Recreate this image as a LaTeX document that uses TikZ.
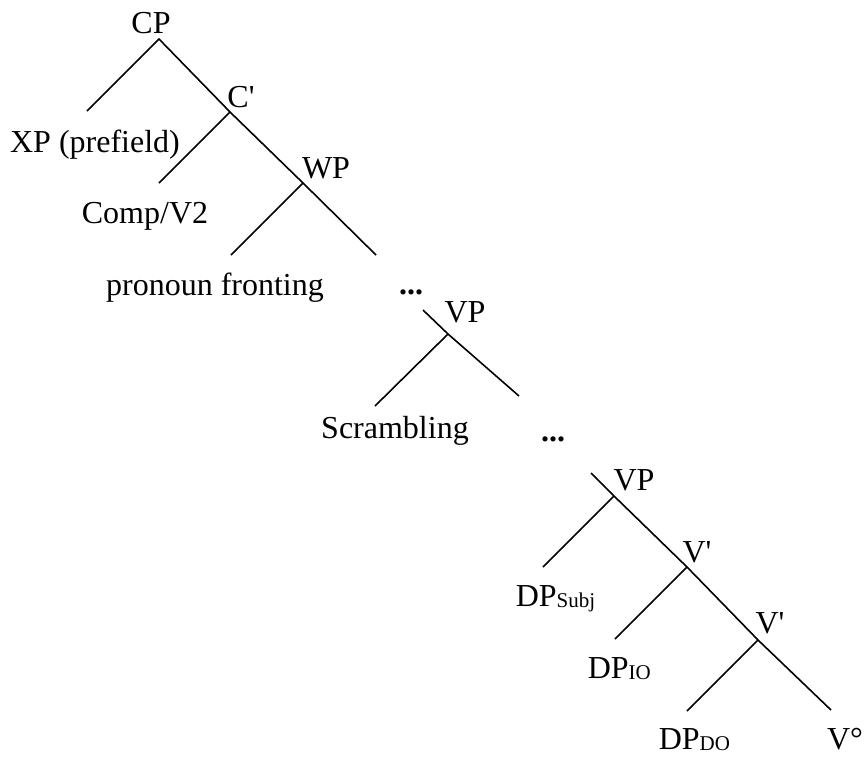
\documentclass[tikz,border=0pt]{standalone}
\usepackage{fontspec}
\setmainfont{Liberation Serif}
\usetikzlibrary{positioning}
\newcommand{\subtxt}[1]{\raisebox{-1.5pt}{\fontsize{21}{24}\selectfont #1}}

\begin{document}
\begin{tikzpicture}[x=1pt, y=-1pt, line width=1.6pt,
    lbl/.style={anchor=base, inner sep=0pt, font=\fontsize{32}{38}\selectfont}]
\useasboundingbox (0,0) rectangle (865,756);
% branch points
\coordinate (cp) at (159,39);
\coordinate (xpEnd) at (87,111);
\coordinate (cbar) at (230,112);
\coordinate (compEnd) at (159,183);
\coordinate (wp) at (303,183);
\coordinate (pronEnd) at (231,255);
\coordinate (wpEnd) at (376,255);
\coordinate (vpAtop) at (423,310);
\coordinate (vpA) at (448,334);
\coordinate (scrEnd) at (375,406);
\coordinate (vpAEnd) at (519,396);
\coordinate (vpBtop) at (591,473);
\coordinate (vpB) at (614,496);
\coordinate (subjEnd) at (543,567);
\coordinate (vbarA) at (687,567);
\coordinate (ioEnd) at (615,639);
\coordinate (vbarB) at (758,640);
\coordinate (doEnd) at (687,711);
\coordinate (vEnd) at (831,710);
% branches
\draw (xpEnd) -- (cp) -- (cbar) -- (wp) -- (wpEnd);
\draw (cbar) -- (compEnd);
\draw (wp) -- (pronEnd);
\draw (vpAtop) -- (vpA) -- (vpAEnd);
\draw (vpA) -- (scrEnd);
\draw (vpBtop) -- (vpB) -- (vbarA) -- (vbarB) -- (vEnd);
\draw (vpB) -- (subjEnd);
\draw (vbarA) -- (ioEnd);
\draw (vbarB) -- (doEnd);
% labels
\node[lbl] (cpL) at (151,33) {CP};
\node[lbl] (cbarL) at (241,107) {C\textquotesingle};
\node[lbl] (wpL) at (326,178) {WP};
\node[lbl] (xpL) at (95,152) {XP (prefield)};
\node[lbl] (compL) at (145,223) {Comp/V2};
\node[lbl] (pronL) at (215,295) {pronoun fronting};
\node[lbl] (dotsA) at (411,294) {\textbf{...}};
\node[lbl] (vpAL) at (465,322) {VP};
\node[lbl] (scrL) at (395,438) {Scrambling};
\node[lbl] (dotsB) at (553,441) {\textbf{...}};
\node[lbl] (vpBL) at (634,490) {VP};
\node[lbl, anchor=base west] (subjL) at (515,606) {DP\subtxt{Subj}};
\node[lbl] (vbarAL) at (697,562) {V\textquotesingle};
\node[lbl, anchor=base west] (ioL) at (587,678) {DP\subtxt{IO}};
\node[lbl] (vbarBL) at (770,633) {V\textquotesingle};
\node[lbl, anchor=base west] (doL) at (658,749) {DP\subtxt{DO}};
\node[lbl] (vL) at (845,749) {V°};
\end{tikzpicture}
\end{document}
